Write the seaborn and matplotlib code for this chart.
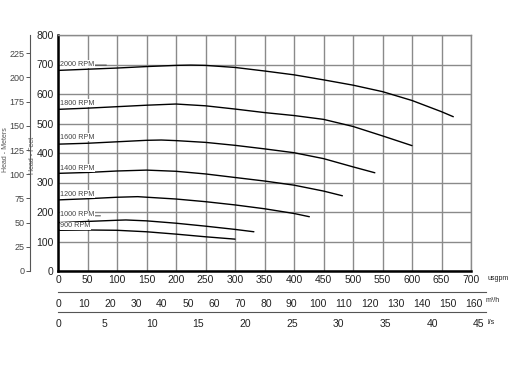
import numpy as np
import pandas as pd
import matplotlib
matplotlib.use("Agg")
import matplotlib.pyplot as plt
import seaborn as sns

# ---- data (head in feet vs flow in usgpm) ----
rpm_labels = ["2000 RPM", "1800 RPM", "1600 RPM", "1400 RPM", "1200 RPM", "1000 RPM", "900 RPM"]
q_2000 = [0, 50, 100, 150, 200, 225, 250, 300, 350, 400, 450, 500, 550, 600, 650, 670]
h_2000 = [680, 684, 688, 693, 697, 698, 697, 690, 678, 665, 648, 630, 608, 578, 540, 523]
q_1800 = [0, 50, 100, 150, 200, 250, 300, 350, 400, 450, 500, 550, 600]
h_1800 = [548, 552, 557, 562, 566, 560, 549, 537, 527, 514, 490, 458, 425]
q_1600 = [0, 50, 100, 150, 175, 200, 250, 300, 350, 400, 450, 500, 537]
h_1600 = [430, 433, 438, 443, 444, 442, 436, 426, 414, 401, 381, 353, 333]
q_1400 = [0, 50, 100, 150, 200, 250, 300, 350, 400, 450, 482]
h_1400 = [331, 334, 339, 342, 338, 329, 317, 305, 291, 271, 255]
q_1200 = [0, 50, 100, 135, 200, 250, 300, 350, 400, 426]
h_1200 = [241, 245, 250, 252, 244, 235, 224, 211, 195, 184]
q_1000 = [0, 50, 100, 115, 150, 200, 250, 300, 332]
h_1000 = [164, 168, 172, 173, 170, 162, 152, 141, 133]
q_900 = [0, 50, 100, 150, 200, 250, 300]
h_900 = [138, 139, 138, 133, 125, 116, 108]

label_heads = [701, 569, 454, 349, 261, 190, 153]
leader_ends = {"2000 RPM": 82, "1000 RPM": 72}

feet_ticks = list(range(0, 801, 100))
meter_ticks = list(range(0, 226, 25))
usgpm_ticks = list(range(0, 701, 50))
m3h_ticks = list(range(0, 161, 10))
ls_ticks = list(range(0, 46, 5))

FT_PER_M = 3.28084
USGPM_PER_M3H = 4.40287
USGPM_PER_LS = 15.8503

qs = [q_2000, q_1800, q_1600, q_1400, q_1200, q_1000, q_900]
hs = [h_2000, h_1800, h_1600, h_1400, h_1200, h_1000, h_900]
df = pd.concat([pd.DataFrame({"usgpm": q, "feet": h, "rpm": lab})
                for q, h, lab in zip(qs, hs, rpm_labels)], ignore_index=True)

sns.set_style("white")
plt.rcParams["font.family"] = ["Liberation Sans", "DejaVu Sans"]

W, H = 513, 365
fig = plt.figure(figsize=(W / 100, H / 100), dpi=100)
px_l, px_r, px_t, px_b = 58, 471, 35, 271
left = px_l / W
width = (px_r - px_l) / W
bottom = 1 - px_b / H
height = (px_b - px_t) / H
ax = fig.add_axes([left, bottom, width, height])

grid_c = "#8a8a8a"
txt_c = "#222222"
sns.lineplot(data=df, x="usgpm", y="feet", hue="rpm", palette=["black"] * 7,
             legend=False, sort=False, estimator=None, lw=1.0, ax=ax, zorder=3)

ax.set_xlim(0, 700)
ax.set_ylim(0, 800)
ax.set_xticks(usgpm_ticks)
ax.set_yticks(feet_ticks)
ax.grid(True, color=grid_c, lw=1.0)
ax.set_xlabel("")
ax.set_ylabel("")
for s in ["top", "right"]:
    ax.spines[s].set_color(grid_c)
    ax.spines[s].set_linewidth(1.0)
for s in ["left", "bottom"]:
    ax.spines[s].set_color("black")
    ax.spines[s].set_linewidth(1.8)
ax.tick_params(axis="both", length=0, labelsize=7.5, colors=txt_c, pad=4)
ax.tick_params(axis="x", pad=3)
ax.tick_params(axis="y", pad=3)

for lab, y0 in zip(rpm_labels, label_heads):
    ax.text(4, y0, lab, fontsize=5.2, color="#444444", va="center", ha="left", zorder=4,
            bbox=dict(facecolor="white", edgecolor="none", pad=0.3))
    if lab in leader_ends:
        ax.annotate("", xy=(leader_ends[lab], y0 - 3), xytext=(60, y0 - 3),
                    arrowprops=dict(arrowstyle="-", color="#444444", lw=0.7,
                                    shrinkA=0, shrinkB=0))

# meters axis
axm = ax.twinx()
axm.set_ylim(0, 800 / FT_PER_M)
axm.set_yticks(meter_ticks)
axm.yaxis.set_ticks_position("left")
axm.yaxis.set_label_position("left")
axm.spines["left"].set_position(("axes", (30 - px_l) / (px_r - px_l)))
axm.spines["left"].set_color("#555555")
axm.spines["left"].set_linewidth(0.8)
for s in ["right", "top", "bottom"]:
    axm.spines[s].set_visible(False)
axm.tick_params(axis="y", length=3, width=0.7, color="#555555", labelsize=6.5,
                colors="#444444", pad=1)
axm.grid(False)

fig.text(6 / W, 1 - 150 / H, "Head - Meters", rotation=90, fontsize=5,
         color="#555555", ha="center", va="center")
fig.text(33 / W, 1 - 155 / H, "Head - Feet", rotation=90, fontsize=5,
         color="#555555", ha="center", va="center")

# secondary flow scales
px_end = 486
ext_usgpm = 700 * (px_end - px_l) / (px_r - px_l)
ext_w = (px_end - px_l) / W


def flow_axis(py, xmax, major, minor_step):
    a = fig.add_axes([left, 1 - py / H, ext_w, 0.0001])
    a.set_xlim(0, xmax)
    a.set_xticks(major)
    a.set_xticks(np.arange(0, xmax, minor_step), minor=True)
    a.set_yticks([])
    for s in ["top", "left", "right"]:
        a.spines[s].set_visible(False)
    a.spines["bottom"].set_color("#555555")
    a.spines["bottom"].set_linewidth(0.8)
    a.tick_params(axis="x", which="major", length=2.5, width=0.7, color="#555555",
                  labelsize=7.5, colors=txt_c, pad=2.5)
    a.tick_params(axis="x", which="minor", length=1.5, width=0.6, color="#555555")
    a.set_facecolor("none")
    return a


flow_axis(292, ext_usgpm / USGPM_PER_M3H, m3h_ticks, 5)
flow_axis(312, ext_usgpm / USGPM_PER_LS, ls_ticks, 1)

fig.text(488 / W, 1 - 279 / H, "usgpm", fontsize=5, color=txt_c, va="center")
fig.text(486 / W, 1 - 301 / H, "m³/h", fontsize=5, color=txt_c, va="center")
fig.text(488 / W, 1 - 322 / H, "l/s", fontsize=5, color=txt_c, va="center")

fig.savefig("out.png", dpi=100, facecolor="white")
